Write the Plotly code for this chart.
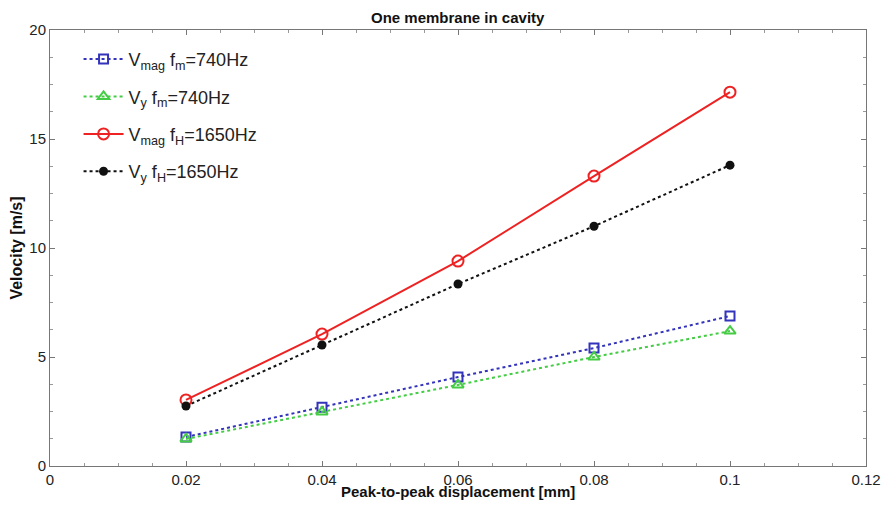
import plotly.graph_objects as go

x_disp = [0.02, 0.04, 0.06, 0.08, 0.1]
vmag_740 = [1.33, 2.70, 4.08, 5.41, 6.88]
vy_740 = [1.24, 2.48, 3.72, 5.00, 6.19]
vmag_1650 = [3.03, 6.05, 9.40, 13.30, 17.15]
vy_1650 = [2.75, 5.55, 8.35, 11.00, 13.80]

names = ["V<sub>mag</sub> f<sub>m</sub>=740Hz",
         "V<sub>y</sub> f<sub>m</sub>=740Hz",
         "V<sub>mag</sub> f<sub>H</sub>=1650Hz",
         "V<sub>y</sub> f<sub>H</sub>=1650Hz"]

fig = go.Figure()
fig.add_trace(go.Scatter(x=x_disp, y=vmag_740, name=names[0], mode="lines+markers", legendgroup="a",
                         line=dict(color="#3333bb", width=2, dash="dot"),
                         marker=dict(symbol="square-open", size=9, color="#3333bb", line=dict(width=2))))
fig.add_trace(go.Scatter(x=x_disp, y=vy_740, name=names[1], mode="lines+markers", legendgroup="b",
                         line=dict(color="#44cc44", width=2, dash="dot"),
                         marker=dict(symbol="triangle-up-open", size=10, color="#44cc44", line=dict(width=2))))
fig.add_trace(go.Scatter(x=x_disp, y=vmag_1650, name=names[2], mode="lines+markers", legendgroup="c",
                         line=dict(color="#ee2222", width=2),
                         marker=dict(symbol="circle-open", size=11, color="#ee2222", line=dict(width=2))))
fig.add_trace(go.Scatter(x=x_disp, y=vy_1650, name=names[3], mode="lines+markers", legendgroup="d",
                         line=dict(color="#111111", width=2, dash="dot"),
                         marker=dict(symbol="circle", size=9, color="#111111")))

narrow = "Liberation Sans Narrow, Liberation Sans, Arial"
axfont = dict(family=narrow, size=15, color="#222")
common = dict(showgrid=False, zeroline=False, showline=True, linecolor="#777", linewidth=1,
              mirror="ticks", ticks="inside", ticklen=5, tickcolor="#777",
              tickfont=axfont, automargin=False)

fig.update_xaxes(range=[0, 0.12], tickvals=[0, 0.02, 0.04, 0.06, 0.08, 0.1, 0.12],
                 ticktext=["0", "0.02", "0.04", "0.06", "0.08", "0.1", "0.12"],
                 minor=dict(dtick=0.005, ticks="inside", ticklen=3, tickcolor="#999"),
                 **common)
fig.update_yaxes(range=[0, 20], dtick=5,
                 minor=dict(dtick=1.25, ticks="inside", ticklen=3, tickcolor="#999"),
                 title=dict(text="<b>Velocity [m/s]</b>", standoff=4,
                            font=dict(family=narrow, size=16, color="#111")),
                 **common)

fig.add_annotation(text="<b>Peak-to-peak displacement [mm]</b>", xref="paper", yref="paper",
                   x=0.5, y=-0.036, xanchor="center", yanchor="top", showarrow=False, borderpad=0,
                   font=dict(family=narrow, size=15, color="#111"))
fig.add_annotation(text="<b>One membrane in cavity</b>", xref="paper", yref="paper",
                   x=0.5, y=1.05, xanchor="center", yanchor="top", showarrow=False, borderpad=0,
                   font=dict(family=narrow, size=15, color="#111"))

fig.update_layout(
    width=877, height=494,
    margin=dict(l=42, r=19, t=22, b=36),
    paper_bgcolor="white", plot_bgcolor="white",
    legend=dict(x=0.035, y=0.975, xanchor="left", yanchor="top", bgcolor="rgba(255,255,255,0)",
                font=dict(family="Liberation Sans, Arial", size=18, color="#222"),
                tracegroupgap=11, itemwidth=40),
    showlegend=True,
)

fig.write_html("out.html")
